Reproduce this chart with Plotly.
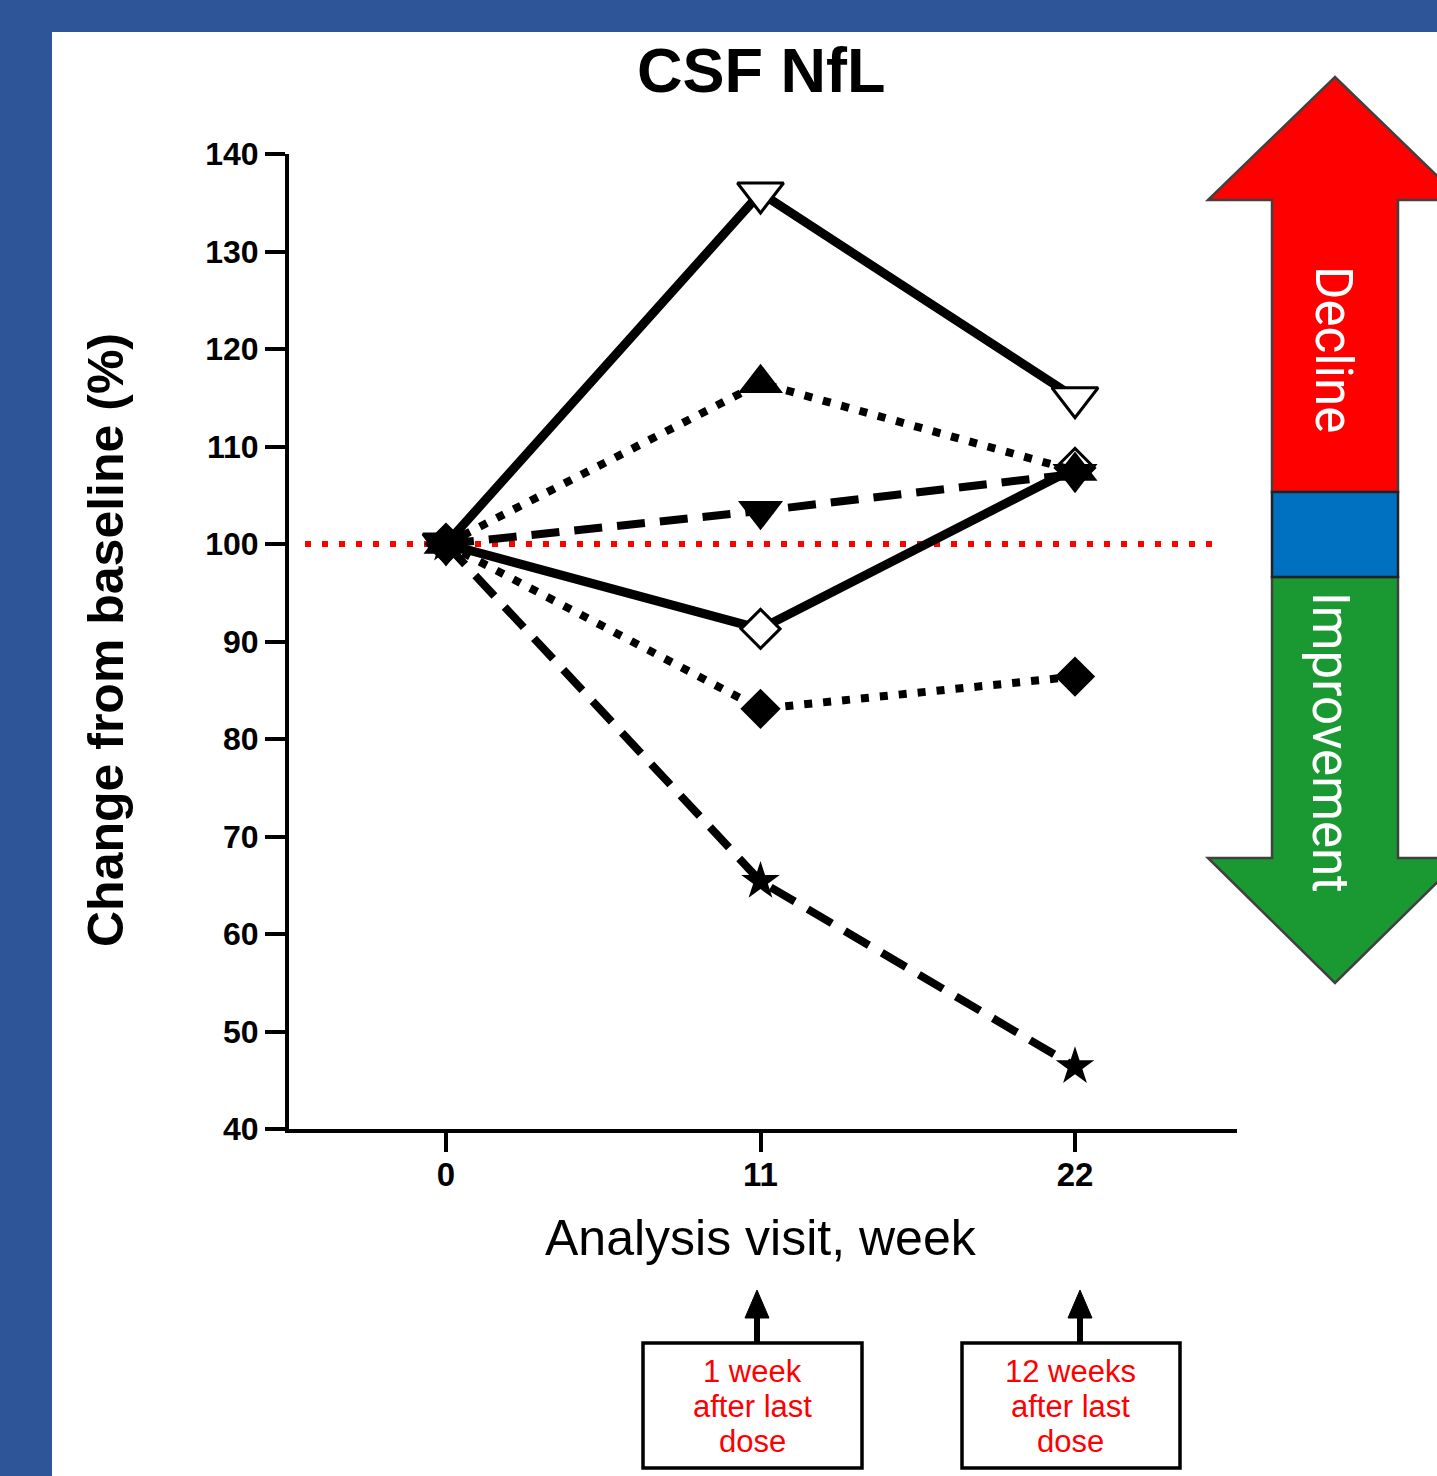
import plotly.graph_objects as go

# ---- data ----
weeks = [0, 11, 22]
week_labels = ["0", "11", "22"]
y_ticks = list(range(40, 141, 10))

pt_open_tri_down = [100, 136.0, 115.0]
pt_tri_up = [100, 116.5, 107.5]
pt_tri_down = [100, 103.4, 107.2]
pt_open_diamond = [100, 91.3, 107.8]
pt_diamond = [100, 83.1, 86.4]
pt_star = [100, 65.4, 46.4]

baseline = 100

visit_notes = [
    ["1 week", "after last", "dose"],
    ["12 weeks", "after last", "dose"],
]

# ---- canvas geometry (pixels) ----
W, H = 1437, 1476
PL, PR, PT, PB = 289, 1237, 154, 1129   # plot area edges


def fx(px):
    return (px - PL) / (PR - PL)


def fy(py):
    return (PB - py) / (PB - PT)


x_scale = (1075 - 446) / 22.0
x_range = [-(446 - PL) / x_scale, 22 + (PR - 1075) / x_scale]

BLUE_BG = "#2E5597"
DOT = "8px,11px"
DASH = "28px,15px"

fig = go.Figure()


def add_series(y, symbol, size, dash, open_marker=False, lw=8):
    fig.add_trace(go.Scatter(
        x=weeks, y=y, mode="lines+markers",
        line=dict(color="black", width=lw, dash=dash),
        marker=dict(symbol=symbol, size=size,
                    color="white" if open_marker else "black",
                    line=dict(color="black", width=3 if open_marker else 0)),
        showlegend=False, cliponaxis=False,
    ))


# open symbols first so the filled ones sit on top where they overlap
add_series(pt_open_tri_down, "triangle-down", 40, "solid", open_marker=True, lw=9)
add_series(pt_open_diamond, "diamond", 30, "solid", open_marker=True, lw=9)
add_series(pt_star, "star", 29, DASH)
add_series(pt_diamond, "diamond", 31, DOT)
add_series(pt_tri_down, "triangle-down", 39, DASH)
add_series(pt_tri_up, "triangle-up", 39, DOT)

shapes = []
# white panel on the blue page
shapes.append(dict(type="rect", xref="paper", yref="paper", layer="below",
                   x0=fx(52), x1=fx(W + 5), y0=fy(H + 5), y1=fy(32),
                   fillcolor="white", line=dict(width=0)))
# baseline reference line
shapes.append(dict(type="line", xref="x", yref="y", layer="below",
                   x0=(305 - 446) / x_scale, x1=(1222 - 446) / x_scale,
                   y0=baseline, y1=baseline,
                   line=dict(color="#FF0000", width=6, dash="6px,11px")))


def poly(points):
    return "M " + " L ".join(f"{fx(a):.5f},{fy(b):.5f}" for a, b in points) + " Z"


OUT = dict(color="#404040", width=2.5)
# decline (up) arrow
shapes.append(dict(type="path", xref="paper", yref="paper",
                   path=poly([(1272, 492), (1272, 200), (1208, 200), (1335, 77),
                              (1462, 200), (1398, 200), (1398, 492)]),
                   fillcolor="#FF0000", line=OUT))
# improvement (down) arrow
shapes.append(dict(type="path", xref="paper", yref="paper",
                   path=poly([(1272, 577), (1272, 858), (1208, 858), (1335, 983),
                              (1462, 858), (1398, 858), (1398, 577)]),
                   fillcolor="#1A9932", line=OUT))
# neutral band
shapes.append(dict(type="rect", xref="paper", yref="paper",
                   x0=fx(1272), x1=fx(1398), y0=fy(577), y1=fy(492),
                   fillcolor="#0070C0", line=dict(color="#222222", width=2.5)))

annotations = []
# note boxes under the visits with pointer arrows
for (bx0, bx1, ax), lines in zip([(643, 862, 757), (962, 1180, 1080)], visit_notes):
    shapes.append(dict(type="rect", xref="paper", yref="paper",
                       x0=fx(bx0), x1=fx(bx1), y0=fy(1468), y1=fy(1343),
                       fillcolor="white", line=dict(color="black", width=3.5)))
    shapes.append(dict(type="line", xref="paper", yref="paper",
                       x0=fx(ax), x1=fx(ax), y0=fy(1343), y1=fy(1314),
                       line=dict(color="black", width=6)))
    shapes.append(dict(type="path", xref="paper", yref="paper",
                       path=poly([(ax - 12, 1318), (ax + 12, 1318), (ax, 1290)]),
                       fillcolor="black", line=dict(color="black", width=1)))
    cx = (bx0 + bx1) / 2 - 0.5
    for i, t in enumerate(lines):
        annotations.append(dict(xref="paper", yref="paper", x=fx(cx), y=fy(1371 + 35 * i),
                                text=t, showarrow=False, xanchor="center", yanchor="middle",
                                font=dict(family="Liberation Sans, Arial", size=31, color="#FF0000")))

# title
annotations.append(dict(xref="paper", yref="paper", x=fx(761), y=fy(70),
                        text="<b>CSF NfL</b>", showarrow=False,
                        xanchor="center", yanchor="middle",
                        font=dict(family="Liberation Sans, Arial", size=63, color="black")))
# axis titles
annotations.append(dict(xref="paper", yref="paper", x=fx(106), y=fy(640),
                        text="<b>Change from baseline (%)</b>", showarrow=False,
                        textangle=-90, xanchor="center", yanchor="middle",
                        font=dict(family="Liberation Sans, Arial", size=50, color="black")))
annotations.append(dict(xref="paper", yref="paper", x=fx(761), y=fy(1238),
                        text="Analysis visit, week", showarrow=False,
                        xanchor="center", yanchor="middle",
                        font=dict(family="Liberation Sans, Arial", size=50, color="black")))
# arrow labels
annotations.append(dict(xref="paper", yref="paper", x=fx(1333), y=fy(349),
                        text="Decline", showarrow=False, textangle=90,
                        xanchor="center", yanchor="middle",
                        font=dict(family="Roboto", size=51, color="white")))
annotations.append(dict(xref="paper", yref="paper", x=fx(1331), y=fy(742),
                        text="Improvement", showarrow=False, textangle=90,
                        xanchor="center", yanchor="middle",
                        font=dict(family="Roboto", size=51, color="white")))

fig.update_layout(
    width=W, height=H,
    margin=dict(l=PL, r=W - PR, t=PT, b=H - PB, pad=0),
    paper_bgcolor=BLUE_BG, plot_bgcolor="white",
    shapes=shapes, annotations=annotations,
    xaxis=dict(range=x_range, tickmode="array", tickvals=weeks, ticktext=week_labels,
               showgrid=False, zeroline=False, showline=True, linecolor="black", linewidth=4,
               ticks="outside", ticklen=19, tickwidth=4, tickcolor="black",
               ticklabelstandoff=-6,
               tickfont=dict(family="Liberation Sans, Arial", size=33, color="black", weight="bold")),
    yaxis=dict(range=[40, 140], tickmode="array", tickvals=y_ticks,
               showgrid=False, zeroline=False, showline=True, linecolor="black", linewidth=4,
               ticks="outside", ticklen=20, tickwidth=4, tickcolor="black",
               tickfont=dict(family="Liberation Sans, Arial", size=32, color="black", weight="bold")),
)

fig.write_html("out.html")
